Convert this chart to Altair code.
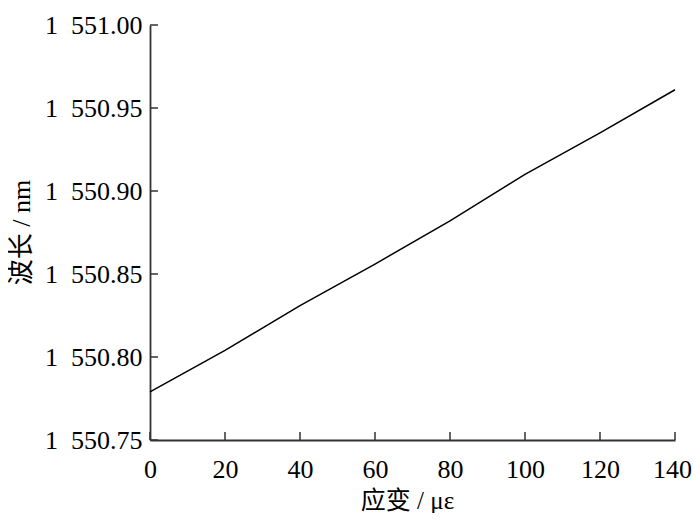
import altair as alt
import pandas as pd

# data
strain = [0, 20, 40, 60, 80, 100, 120, 140]
wavelength = [1550.779, 1550.804, 1550.831, 1550.856, 1550.882, 1550.910, 1550.935, 1550.961]
x_ticks = [0, 20, 40, 60, 80, 100, 120, 140]
y_ticks = [1550.75, 1550.80, 1550.85, 1550.90, 1550.95, 1551.00]

df = pd.DataFrame({"strain": strain, "wl": wavelength})
dfx = pd.DataFrame({"t": x_ticks})
dfy = pd.DataFrame({"t": y_ticks})

W, H = 525, 415
FONT = "Liberation Serif, Times New Roman, Noto Sans CJK SC"

xscale = alt.Scale(domain=[0, 140], nice=False, zero=False)
yscale = alt.Scale(domain=[1550.75, 1551.00], nice=False, zero=False)

xaxis = alt.Axis(
    values=x_ticks, ticks=False, grid=False, labelPadding=16.5,
    labelFlush=False, labelOverlap=False, labelBound=False,
    labelOffset={"condition": {"test": "datum.value == 140", "value": -3}, "value": 0},
    title="应变 / με", titleX=257, titleY=60, titleBaseline="middle",
    titleAlign="center", titleAnchor="start", titleFontSize=25,
)
yaxis = alt.Axis(
    values=y_ticks, ticks=False, grid=False, labelPadding=8,
    labelFlush=False, labelOverlap=False,
    labelExpr="replace(format(datum.value, ',.2f'), ',', '\u00a0\u00a0')",
    title="波长 / nm", titleX=-128.5, titleY=207, titleBaseline="middle",
    titleAlign="center", titleAngle=270, titleAnchor="start",
)

line = alt.Chart(df).mark_line(color="black", strokeWidth=1.5).encode(
    x=alt.X("strain:Q", scale=xscale, axis=xaxis),
    y=alt.Y("wl:Q", scale=yscale, axis=yaxis),
)

yt = alt.Chart(dfy).mark_rule(color="#333333", strokeWidth=1.5).encode(
    y=alt.Y("t:Q", scale=yscale),
    x=alt.value(0), x2=alt.value(8),
)
xt = alt.Chart(dfx).mark_rule(color="#333333", strokeWidth=1.5).encode(
    x=alt.X("t:Q", scale=xscale),
    y=alt.value(H), y2=alt.value(H - 8),
)

chart = alt.layer(line, yt, xt).properties(
    width=W, height=H,
    autosize=alt.AutoSizeParams(type="none"),
    padding={"left": 142, "top": 17, "right": 17, "bottom": 73},
).configure_view(stroke=None).configure_axis(
    labelFont=FONT, titleFont=FONT, labelFontSize=26, titleFontSize=26,
    labelColor="black", titleColor="black", titleFontWeight="normal",
    domainColor="#333333", domainWidth=1.8,
)

chart.save("out.html", embed_options={"renderer": "svg", "actions": False})
